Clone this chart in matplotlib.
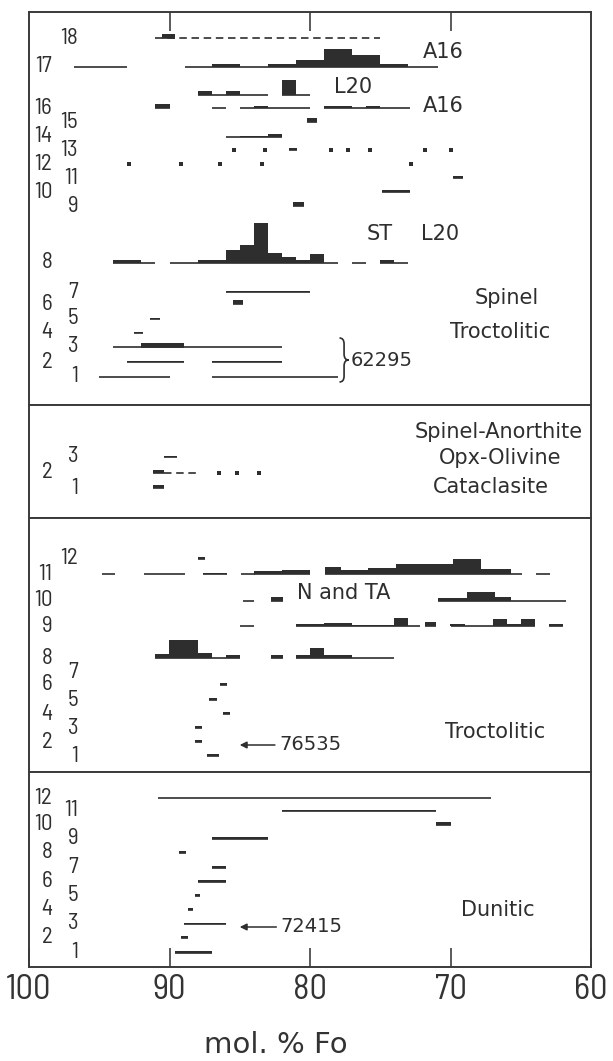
import matplotlib.pyplot as plt
from matplotlib.path import Path
from matplotlib.patches import PathPatch

plt.rcParams['font.family'] = ['DejaVu Sans']
NUM_FONT = ['Barlow Semi Condensed', 'DejaVu Sans']

INK = '#2e2e2e'
UNIT = 3.0  # px of bar height per grain count

# olivine ranges, (row, Fo high, Fo low, count); count 0 = range line only
spinel_troct = [
    ('18', 90.5, 89.6, 1.5),
    ('17', 96.8, 93.0, 0), ('17', 88.9, 87.0, 0), ('17', 87.0, 85.0, 1),
    ('17', 85.0, 83.0, 0), ('17', 83.0, 81.0, 1), ('17', 81.0, 79.0, 2.5),
    ('17', 79.0, 77.0, 6), ('17', 77.0, 75.0, 4), ('17', 75.0, 73.0, 1),
    ('17', 73.0, 70.9, 0),
    ('L20', 88.0, 87.0, 1.5), ('L20', 87.0, 86.0, 0), ('L20', 86.0, 85.0, 1.5),
    ('L20', 85.0, 83.0, 0), ('L20', 82.0, 81.0, 5), ('L20', 81.0, 80.0, 0),
    ('16', 91.0, 90.0, 1.3), ('16', 87.0, 86.0, 0), ('16', 85.0, 84.0, 0),
    ('16', 84.0, 83.0, 0.6), ('16', 83.0, 80.0, 0), ('16', 79.0, 77.0, 0.8),
    ('16', 77.0, 76.0, 0), ('16', 76.0, 75.0, 0.6), ('16', 75.0, 72.9, 0),
    ('15', 80.2, 79.5, 1.2),
    ('14', 86.0, 85.0, 0), ('14', 85.0, 83.0, 0.5), ('14', 83.0, 82.0, 1.1),
    ('13', 81.5, 80.9, 0.8),
    ('11', 69.8, 69.1, 0.8),
    ('10', 74.9, 72.9, 0.6),
    ('9', 81.2, 80.4, 1.2),
    ('8', 94.0, 92.0, 1), ('8', 92.0, 91.0, 0), ('8', 90.0, 88.0, 0),
    ('8', 88.0, 86.0, 1), ('8', 86.0, 85.0, 4.5), ('8', 85.0, 84.0, 6),
    ('8', 84.0, 83.0, 13.5), ('8', 83.0, 82.0, 3.5), ('8', 82.0, 81.0, 2),
    ('8', 81.0, 80.0, 1), ('8', 80.0, 79.0, 3), ('8', 79.0, 78.0, 0),
    ('8', 77.0, 76.0, 0), ('8', 75.0, 74.0, 1), ('8', 74.0, 73.0, 0),
    ('7', 86.0, 80.0, 0.2),
    ('6', 85.5, 84.8, 1.2),
    ('5', 91.4, 90.7, 0.5),
    ('4', 92.5, 91.9, 0.5),
    ('3', 94.0, 82.0, 0), ('3', 92.0, 89.0, 1.2),
    ('2', 93.0, 89.0, 0.4), ('2', 87.0, 82.0, 0.4),
    ('1', 95.0, 90.0, 0), ('1', 87.0, 78.0, 0),
]
spinel_troct_dashed = [('18', 91.0, 75.0)]
spinel_troct_dots = [
    ('13', 85.4), ('13', 83.2), ('13', 78.5), ('13', 77.3), ('13', 75.7),
    ('13', 71.8), ('13', 70.0),
    ('12', 92.9), ('12', 89.2), ('12', 86.4), ('12', 83.4), ('12', 72.8),
]

cataclasite = [
    ('3', 90.4, 89.5, 0.5),
    ('2', 91.2, 90.4, 1),
    ('1', 91.2, 90.4, 1),
]
cataclasite_dashed = [('2', 90.4, 87.8)]
cataclasite_dots = [('2', 86.5), ('2', 85.2), ('2', 83.6)]

troctolitic = [
    ('12', 88.0, 87.5, 0.6),
    ('11', 94.8, 93.9, 0), ('11', 91.8, 88.9, 0), ('11', 87.6, 85.9, 0.5),
    ('11', 84.9, 83.9, 0), ('11', 84.0, 82.0, 1.1), ('11', 82.0, 80.0, 1.5),
    ('11', 78.9, 77.8, 2.4), ('11', 77.8, 75.9, 1.3), ('11', 75.9, 73.9, 2),
    ('11', 73.9, 69.8, 3.3), ('11', 69.8, 67.8, 5), ('11', 67.8, 65.7, 1.7),
    ('11', 65.7, 64.9, 0), ('11', 63.9, 62.9, 0),
    ('10', 84.8, 84.0, 0), ('10', 82.8, 81.9, 1.2), ('10', 70.9, 68.8, 1),
    ('10', 68.8, 66.8, 3), ('10', 66.8, 65.7, 1.2), ('10', 65.7, 61.8, 0),
    ('9', 85.0, 84.0, 0), ('9', 81.0, 79.0, 0.6), ('9', 79.0, 77.0, 1),
    ('9', 77.0, 74.0, 0.4), ('9', 74.0, 73.0, 2.8), ('9', 73.0, 72.2, 0),
    ('9', 71.8, 71.0, 1.3), ('9', 70.0, 69.0, 0.6), ('9', 69.0, 67.0, 0),
    ('9', 67.0, 66.0, 2.5), ('9', 66.0, 65.0, 0.6), ('9', 65.0, 64.0, 2.5),
    ('9', 63.0, 62.0, 0.6),
    ('8', 91.0, 90.0, 1.2), ('8', 90.0, 88.0, 6), ('8', 88.0, 87.0, 1.6),
    ('8', 87.0, 86.0, 0), ('8', 86.0, 85.0, 0.9), ('8', 82.8, 81.9, 1.1),
    ('8', 81.0, 80.0, 0.9), ('8', 80.0, 79.0, 3.3), ('8', 79.0, 77.0, 1.1),
    ('8', 77.0, 74.0, 0),
    ('6', 86.4, 85.9, 0.6),
    ('5', 87.2, 86.6, 0.6),
    ('4', 86.2, 85.7, 0.6),
    ('3', 88.2, 87.7, 0.6),
    ('2', 88.2, 87.7, 0.6),
    ('1', 87.3, 86.5, 0.6),
]

dunitic = [
    ('12', 90.85, 67.1, 0),
    ('11', 82.0, 71.0, 0.2),
    ('10', 71.0, 70.0, 1),
    ('9', 87.0, 83.0, 0.6),
    ('8', 89.3, 88.8, 0.6),
    ('7', 87.0, 86.0, 0.8),
    ('6', 88.0, 86.0, 0.8),
    ('5', 88.2, 87.8, 0.5),
    ('4', 88.7, 88.3, 0.5),
    ('3', 89.0, 86.0, 0.2),
    ('2', 89.2, 88.7, 0.6),
    ('1', 89.6, 87.0, 0.6),
]

fo_ticks = [100, 90, 80, 70, 60]

# ---- layout: vertical position (px from top) and label column of every row
spinel_rows = {'18': 38, '17': 67, 'L20': 95, '16': 108, '15': 122, '14': 137,
               '13': 150, '12': 164, '11': 178, '10': 192, '9': 206, '8': 263,
               '7': 292, '6': 304, '5': 319, '4': 333, '3': 347, '2': 362, '1': 377}
spinel_labels = [('18', 'R'), ('17', 'L'), ('16', 'L'), ('15', 'R'), ('14', 'L'),
                 ('13', 'R'), ('12', 'L'), ('11', 'R'), ('10', 'L'), ('9', 'R'),
                 ('8', 'L'), ('7', 'R'), ('6', 'L'), ('5', 'R'), ('4', 'L'),
                 ('3', 'R'), ('2', 'L'), ('1', 'R')]
catac_rows = {'3': 457, '2': 473, '1': 488}
catac_labels = [('3', 'R'), ('2', 'L'), ('1', 'R')]
troct_rows = {'12': 559, '11': 574, '10': 601, '9': 626, '8': 658, '7': 672,
              '6': 685, '5': 700, '4': 714, '3': 728, '2': 742, '1': 756}
troct_labels = [('12', 'R'), ('11', 'L'), ('10', 'L'), ('9', 'L'), ('8', 'L'),
                ('7', 'R'), ('6', 'L'), ('5', 'R'), ('4', 'L'), ('3', 'R'),
                ('2', 'L'), ('1', 'R')]
dun_rows = {'12': 798, '11': 811, '10': 825, '9': 839, '8': 853, '7': 868,
            '6': 882, '5': 896, '4': 910, '3': 924, '2': 938, '1': 953}
dun_labels = [(str(i), 'L' if i % 2 == 0 else 'R') for i in range(12, 0, -1)]

COL_X = {'L': 98.35, 'R': 96.5}

W, H = 613, 1061
X0, X1 = 29, 591
panels = [(12, 405), (405, 518), (518, 772), (772, 967)]


def draw_rows(ax, segments, rows_y):
    for row, hi, lo, n in segments:
        y = rows_y[row]
        ax.hlines(y, lo, hi, color=INK, lw=1.2)
        if n > 0:
            ax.bar(lo, n * UNIT, width=hi - lo, bottom=y - n * UNIT,
                   align='edge', color=INK, linewidth=0)


def draw_dashed(ax, spans, rows_y):
    for row, hi, lo in spans:
        ax.plot([hi, lo], [rows_y[row]] * 2, color=INK, lw=1.2,
                linestyle=(0, (4.5, 2.8)))


def draw_dots(ax, dots, rows_y):
    for row, fo in dots:
        ax.plot(fo, rows_y[row], 's', color=INK, ms=2.6, mew=0)


def label_rows(ax, labels, rows_y):
    for lab, col in labels:
        ax.text(COL_X[col], rows_y[lab], lab, ha='right', va='center',
                fontsize=16.5, color=INK, family=NUM_FONT)


def draw_brace(ax, x0, y_top, y_bot, w=0.65, r=6):
    # right-facing curly brace; x in Fo, y in px from the top
    xm, x1, ym = x0 - w / 2, x0 - w, (y_top + y_bot) / 2
    verts = [(x0, y_top), (xm, y_top), (xm, y_top + r), (xm, ym - r),
             (xm, ym), (x1, ym), (xm, ym), (xm, ym + r), (xm, y_bot - r),
             (xm, y_bot), (x0, y_bot)]
    codes = [Path.MOVETO, Path.CURVE3, Path.CURVE3, Path.LINETO,
             Path.CURVE3, Path.CURVE3, Path.CURVE3, Path.CURVE3, Path.LINETO,
             Path.CURVE3, Path.CURVE3]
    ax.add_patch(PathPatch(Path(verts, codes), fill=False, ec=INK, lw=1.2))


def main():
    fig = plt.figure(figsize=(W / 100, H / 100), dpi=100)
    axes = []
    for top, bot in panels:
        ax = fig.add_axes([X0 / W, 1 - bot / H, (X1 - X0) / W, (bot - top) / H])
        ax.set_xlim(100, 60)
        ax.set_ylim(bot, top)
        ax.set_yticks([])
        ax.set_xticks([])
        for s in ax.spines.values():
            s.set_color('#3a3a3a')
            s.set_linewidth(1.4)
        axes.append(ax)
    ax_sp, ax_ca, ax_tr, ax_du = axes

    # top and bottom frame ticks
    ax_sp.set_xticks([90, 80, 70])
    ax_sp.tick_params(axis='x', top=True, bottom=False, labeltop=False,
                      labelbottom=False, direction='in', length=14,
                      width=1.1, color=INK)
    ax_du.set_xticks(fo_ticks)
    ax_du.set_xticklabels([str(t) for t in fo_ticks], family=NUM_FONT)
    ax_du.tick_params(axis='x', direction='in', length=14, width=1.1,
                      color=INK, labelsize=25, labelcolor='#333333', pad=5)
    ax_du.set_xlabel('mol. % Fo', fontsize=21, color='#333333')
    ax_du.xaxis.set_label_coords((276 - X0) / (X1 - X0), -0.33)

    draw_rows(ax_sp, spinel_troct, spinel_rows)
    draw_dashed(ax_sp, spinel_troct_dashed, spinel_rows)
    draw_dots(ax_sp, spinel_troct_dots, spinel_rows)
    label_rows(ax_sp, spinel_labels, spinel_rows)

    draw_rows(ax_ca, cataclasite, catac_rows)
    draw_dashed(ax_ca, cataclasite_dashed, catac_rows)
    draw_dots(ax_ca, cataclasite_dots, catac_rows)
    label_rows(ax_ca, catac_labels, catac_rows)

    draw_rows(ax_tr, troctolitic, troct_rows)
    label_rows(ax_tr, troct_labels, troct_rows)

    draw_rows(ax_du, dunitic, dun_rows)
    label_rows(ax_du, dun_labels, dun_rows)

    txt = dict(color=INK, fontsize=15, va='center')
    ax_sp.text(72.0, 52, 'A16', ha='left', **txt)
    ax_sp.text(78.3, 87, 'L20', ha='left', **txt)
    ax_sp.text(72.0, 106, 'A16', ha='left', **txt)
    ax_sp.text(76.0, 234, 'ST', ha='left', **txt)
    ax_sp.text(72.1, 234, 'L20', ha='left', **txt)
    ax_sp.text(66.0, 298, 'Spinel', ha='center', **txt)
    ax_sp.text(66.5, 332, 'Troctolitic', ha='center', **txt)
    draw_brace(ax_sp, 77.9, 338, 382)
    ax_sp.text(77.1, 360, '62295', ha='left', va='center', fontsize=14,
               color=INK)

    ax_ca.text(66.6, 432, 'Spinel-Anorthite', ha='center', **txt)
    ax_ca.text(66.5, 458, 'Opx-Olivine', ha='center', **txt)
    ax_ca.text(67.1, 487, 'Cataclasite', ha='center', **txt)

    ax_tr.text(80.9, 593, 'N and TA', ha='left', **txt)
    ax_tr.text(66.8, 732, 'Troctolitic', ha='center', **txt)
    ax_tr.annotate('76535', xy=(85.0, 745), xytext=(82.2, 745), ha='left',
                   va='center', fontsize=14, color=INK,
                   arrowprops=dict(arrowstyle='-|>', color=INK, lw=1.1,
                                   mutation_scale=10, shrinkA=1, shrinkB=0))

    ax_du.text(66.6, 910, 'Dunitic', ha='center', **txt)
    ax_du.annotate('72415', xy=(85.0, 927), xytext=(82.1, 927), ha='left',
                   va='center', fontsize=14, color=INK,
                   arrowprops=dict(arrowstyle='-|>', color=INK, lw=1.1,
                                   mutation_scale=10, shrinkA=1, shrinkB=0))

    fig.savefig('out.png', dpi=100, facecolor='white')


if __name__ == '__main__':
    main()
